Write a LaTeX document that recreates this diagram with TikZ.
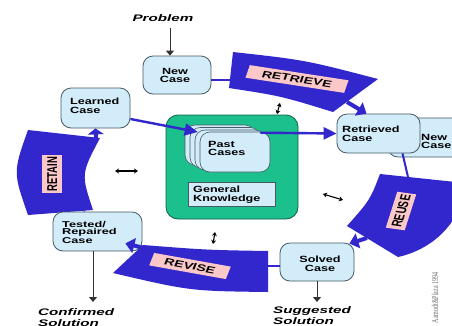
\documentclass[tikz,border=0pt]{standalone}
\usepackage{fontspec}
\usetikzlibrary{arrows.meta}
\newfontfamily\boxfont[FakeStretch=1.4]{Liberation Sans}
\newfontfamily\tightfont[FakeStretch=1.5]{Liberation Sans}
\newfontfamily\iofont[FakeStretch=1.6]{Liberation Sans}
\newfontfamily\labfont{Liberation Sans}
\newfontfamily\creditfont{Liberation Serif}
\definecolor{arcblue}{RGB}{50,38,205}
\definecolor{boxfill}{RGB}{210,236,250}
\definecolor{boxline}{RGB}{70,90,100}
\definecolor{labpink}{RGB}{250,200,200}
\definecolor{kgreen}{RGB}{28,192,140}
\definecolor{kline}{RGB}{15,95,70}
\definecolor{creditgray}{RGB}{110,110,110}
\begin{document}
\begin{tikzpicture}[x=1pt,y=-1pt,
  casebox/.style={draw=boxline,line width=0.8pt,fill=boxfill,rounded corners=10pt,inner sep=0pt},
  cardbox/.style={draw=boxline,line width=0.6pt,fill=boxfill,rounded corners=10pt,inner sep=0pt,minimum width=70pt,minimum height=40pt},
  boxtext/.style={font=\boxfont\bfseries\fontsize{9}{8.6}\selectfont,align=left,inner sep=0pt},
  iotext/.style={font=\iofont\bfseries\itshape\fontsize{9.5}{11.8}\selectfont,align=left,inner sep=0pt},
  arclabel/.style={font=\labfont\bfseries\fontsize{9.5}{9.5}\selectfont,fill=labpink,inner ysep=3pt,text height=6.9pt,text depth=0pt,xscale=1.5},
  blk/.style={draw=black!80,line width=0.9pt,-{Triangle[length=5pt,width=8pt]}},
  dbl/.style={draw=black,line width=1.1pt,{Stealth[length=4pt,width=5pt]}-{Stealth[length=4pt,width=5pt]}},
  blueline/.style={draw=arcblue,line width=1.6pt},
  bluearrow/.style={draw=arcblue,line width=2.4pt,-{Triangle[length=13pt,width=12pt]}},
  arcarrow/.style={draw=arcblue,line width=4pt,-{Triangle[length=9pt,width=15pt]}}
]
\useasboundingbox (0,0) rectangle (452,325);
\fill[white] (0,0) rectangle (452,325);

% ---- cycle arcs
\coordinate (rtA) at (233,52);
\coordinate (rtB) at (378,79);
\coordinate (rtC) at (333,112);
\coordinate (rtD) at (229,88);
\fill[arcblue] (rtA) .. controls (305,60) .. (rtB) -- (rtC) .. controls (281,96) .. (rtD) -- cycle;

\coordinate (ruE) at (380,174);
\coordinate (ruF) at (465,183);
\coordinate (ruG) at (398,257);
\coordinate (ruH) at (347,226);
\fill[arcblue] (ruE) -- (ruF) .. controls (462,225) and (430,250) .. (ruG) -- (ruH) .. controls (370,200) .. (ruE) -- cycle;

\coordinate (rvI) at (268,251);
\coordinate (rvJ) at (268,292);
\coordinate (rvK) at (113,273);
\coordinate (rvL) at (143,245);
\fill[arcblue] (rvL) .. controls (207,250) .. (rvI) -- (rvJ) .. controls (190,291) .. (rvK) -- cycle;

\coordinate (rnM) at (28,130);
\coordinate (rnN) at (100,138);
\coordinate (rnO) at (93,210);
\coordinate (rnP) at (28,215);
\fill[arcblue] (rnM) -- (rnN) .. controls (81,174) .. (rnO) -- (rnP) .. controls (13,172) .. (rnM) -- cycle;

\node[arclabel,inner xsep=10pt,rotate=-13] (lretrieve) at (297,79) {RETRIEVE};
\node[arclabel,inner xsep=9pt,rotate=-15] (lrevise) at (190,266) {REVISE};
\node[arclabel,inner xsep=2pt,rotate=78] (lreuse) at (401,211) {REUSE};
\node[arclabel,inner xsep=2pt,rotate=90] (lretain) at (52,174) {RETAIN};

% ---- knowledge base
\node[draw=kline,fill=kgreen,line width=0.8pt,rounded corners=12pt,minimum width=132pt,minimum height=104pt,inner sep=0pt] (kb) at (232,167) {};
\node[cardbox] (pc1) at (220,145) {};
\node[cardbox] (pc2) at (225,147.5) {};
\node[cardbox] (pc3) at (230,150) {};
\node[cardbox] (pastcases) at (235,152) {};
\node[draw=boxline,line width=0.6pt,fill=boxfill,minimum width=87pt,minimum height=24pt,inner sep=0pt] (gk) at (231.5,194) {};

% ---- case boxes
\node[casebox,minimum width=68pt,minimum height=38pt] (newcase) at (177,75) {};
\node[casebox,minimum width=69pt,minimum height=40pt] (learned) at (95.5,108) {};
\node[casebox,minimum width=74pt,minimum height=39pt] (newcasetwo) at (425,137.5) {};
\node[casebox,minimum width=83pt,minimum height=39pt] (retrieved) at (378.5,133.5) {};
\node[casebox,minimum width=89pt,minimum height=39pt] (tested) at (97.5,231.5) {};
\node[casebox,minimum width=74pt,minimum height=38pt] (solved) at (317,262) {};

% ---- texts
\node[boxtext,align=center,anchor=north] (tnew) at (175,68) {New\\Case};
\node[boxtext,anchor=north west] (tlearned) at (70,98) {Learned\\Case};
\node[boxtext,anchor=north west] (tretr) at (342,126) {Retrieved\\Case};
\node[boxtext,anchor=north west] (tnewtwo) at (421,134) {New\\Case};
\node[boxtext,anchor=north west] (tpast) at (208,141) {Past\\Cases};
\node[boxtext,anchor=north west] (tgk) at (193,186) {General\\Knowledge};
\node[boxtext,font=\tightfont\bfseries\fontsize{8.5}{7.2}\selectfont,anchor=north west] (ttested) at (62,221) {Tested/\\Repaired\\Case};
\node[boxtext,align=center,anchor=north] (tsolved) at (320,256) {Solved\\Case};
\node[iotext,anchor=north] (problem) at (163,14) {Problem};
\node[iotext,anchor=north west] (confirmed) at (38,308) {Confirmed\\Solution};
\node[iotext,anchor=north west] (suggested) at (273,306) {Suggested\\Solution};
\node[font=\creditfont\fontsize{6}{6}\selectfont,text=creditgray,inner sep=0pt,xscale=1.5,rotate=90] (credit) at (435,298) {Aamodt\&Plaza 1994};

% ---- black arrows
\coordinate (confin) at (93,302);
\draw[blk] ([xshift=7pt,yshift=-7pt]problem.south) -- ([xshift=-7pt]newcase.north);
\draw[blk,shorten >=4pt] (solved.south) -- (solved.south |- suggested.north);
\draw[blk] ([xshift=-4.5pt]tested.south) -- (confin);

% ---- blue connectors
\coordinate (rtleft) at (230,80);
\coordinate (rutop) at (408,177);
\coordinate (rvright) at (268,266);
\coordinate (rnbot) at (83,209);
\draw[blueline] ([yshift=-5pt]newcase.east) -- (rtleft);
\draw[blueline,line width=2pt] ([xshift=24pt]retrieved.south) -- (rutop);
\draw[blueline] ([yshift=-4pt]solved.west) -- (rvright);
\draw[blueline,line width=1pt] ([xshift=-13pt]tested.north) -- (rnbot);
\draw[bluearrow] ([yshift=-11pt]learned.east) -- ([xshift=-2pt,yshift=20pt]pastcases.west);
\draw[bluearrow] ([xshift=-10pt,yshift=-1pt]pastcases.north east) -- (retrieved.west);

% ---- arrows out of the arcs
\coordinate (rtarr) at (347,102);
\coordinate (ruarr) at (367,238);
\coordinate (rvarr) at (152,250);
\coordinate (rnarr) at (96,140);
\draw[arcarrow] (rtarr) -- ([xshift=-12pt]retrieved.north);
\draw[arcarrow] (ruarr) -- ([xshift=-5pt,yshift=-1pt]solved.north east);
\draw[arcarrow] (rvarr) -- ([xshift=-17pt,yshift=8pt]tested.south east);
\draw[arcarrow,-{Triangle[length=6pt,width=16pt]}] (rnarr) -- (learned.south);

% ---- double arrows
\coordinate (daa) at (280,103);
\coordinate (dab) at (277,114);
\coordinate (dba) at (115,171);
\coordinate (dbb) at (138,171);
\coordinate (dca) at (323,194);
\coordinate (dcb) at (343,200);
\coordinate (dda) at (215,232);
\coordinate (ddb) at (213,244);
\draw[dbl] (daa) -- (dab);
\draw[dbl] (dba) -- (dbb);
\draw[dbl] (dca) -- (dcb);
\draw[dbl] (dda) -- (ddb);
\end{tikzpicture}
\end{document}
